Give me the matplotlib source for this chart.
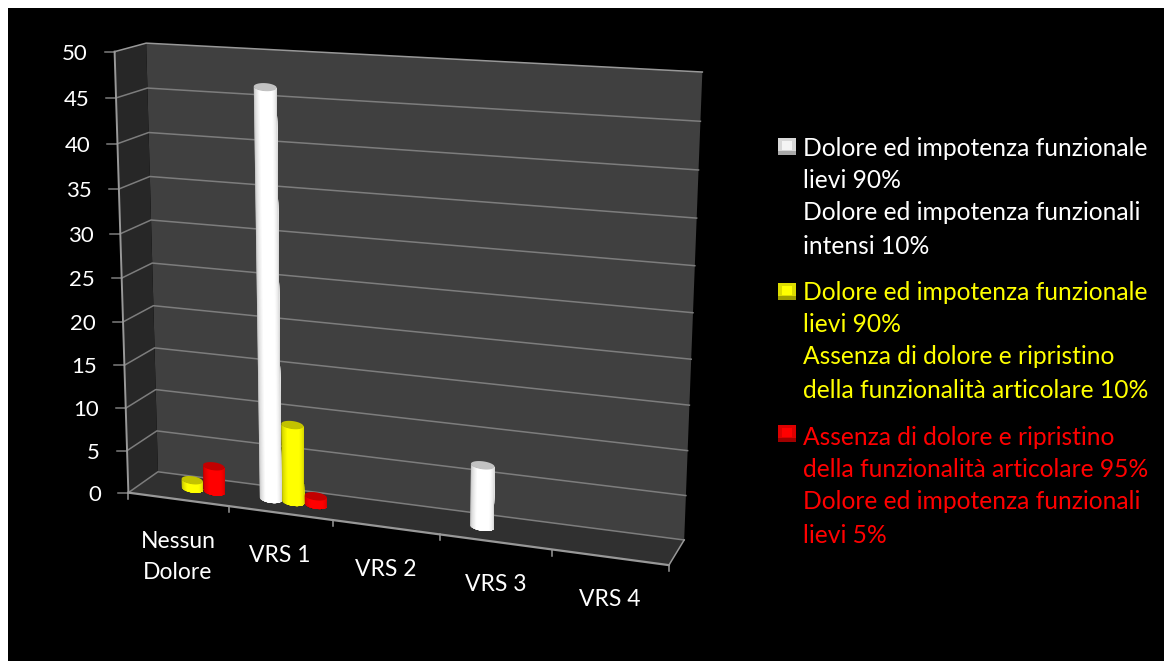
import numpy as np
import matplotlib
matplotlib.use('Agg')
import matplotlib.pyplot as plt
from matplotlib.patches import Polygon, Rectangle

plt.rcParams['font.family'] = ['Lato', 'DejaVu Sans']

categories = ['Nessun\nDolore', 'VRS 1', 'VRS 2', 'VRS 3', 'VRS 4']
white_values = [0, 46.5, 0, 7, 0]
yellow_values = [1, 9, 0, 0, 0]
red_values = [3, 1, 0, 0, 0]
value_ticks = [0, 5, 10, 15, 20, 25, 30, 35, 40, 45, 50]

white_legend = ['Dolore ed impotenza funzionale', 'lievi 90%',
                'Dolore ed impotenza funzionali', 'intensi 10%']
yellow_legend = ['Dolore ed impotenza funzionale', 'lievi 90%',
                 'Assenza di dolore e ripristino',
                 'della funzionalità articolare 10%']
red_legend = ['Assenza di dolore e ripristino',
              'della funzionalità articolare 95%',
              'Dolore ed impotenza funzionali', 'lievi 5%']

# (category axis, depth, value) -> pixel, used to fit the perspective
calib = [
    (0, 0, 0, 130, 492), (0, 0, 25, 123, 276), (0, 0, 50, 115, 51),
    (0, 1, 0, 158, 471), (0, 1, 25, 152, 263), (0, 1, 50, 145, 44),
    (5, 1, 0, 685, 538), (5, 1, 10, 688, 452), (5, 1, 45, 701, 122),
    (5, 1, 50, 702, 72),
    (1, 0, 0, 227, 508), (2, 0, 0, 332, 523), (4, 0, 0, 550, 550),
    (5, 0, 0, 670, 563),
]


def fit_camera(points):
    rows, rhs = [], []
    for x, d, v, px, py in points:
        rows.append([x, d, v, 1, 0, 0, 0, 0, -px * x, -px * d, -px * v])
        rhs.append(px)
        rows.append([0, 0, 0, 0, x, d, v, 1, -py * x, -py * d, -py * v])
        rhs.append(py)
    sol = np.linalg.lstsq(np.array(rows, float), np.array(rhs, float), rcond=None)[0]
    return np.append(sol, 1).reshape(3, 4)


camera = fit_camera(calib)


def project(x, d, v):
    p = camera @ np.array([x, d, v, 1.0])
    return p[:2] / p[2]


def shade_strip(rgb, n):
    t = (np.arange(n) + 0.5) / n
    f = np.interp(t, [0, 0.12, 0.35, 0.7, 0.9, 1], [0.66, 0.82, 1, 1, 0.88, 0.72])
    return np.array(rgb)[None, :] * f[:, None] / 255


def ellipse(x, d, v, half, b, t):
    left, right = project(x - half, d, v), project(x + half, d, v)
    mid = (left + right) / 2
    u = (right - left) / 2
    return mid[0] + u[0] * np.cos(t), mid[1] + u[1] * np.cos(t) + b * np.sin(t)


def cylinder(ax, x, value, rgb, half=0.107, depth=0.5, b=4):
    n = 24
    t = np.linspace(np.pi, 0, n + 1)
    xb, yb = ellipse(x, depth, 0, half, b, t)
    xt, yt = ellipse(x, depth, value, half, b, t)
    colors = shade_strip(rgb, n)
    # painted left to right, each strip covering the rest of the body, so no seams
    for i in range(n):
        px = np.r_[xt[i:], xb[i:][::-1]]
        py = np.r_[yt[i:], yb[i:][::-1]]
        ax.add_patch(Polygon(np.c_[px, py], fc=colors[i], ec='none', zorder=5))
    tc = np.linspace(0, 2 * np.pi, 60)
    xc, yc = ellipse(x, depth, value, half, b, tc)
    cap = np.array(rgb) * 0.76 / 255
    ax.add_patch(Polygon(np.c_[xc, yc], fc=cap, ec='none', zorder=6))


fig = plt.figure(figsize=(11.64, 6.61), dpi=100, facecolor='white')
ax = fig.add_axes([8 / 1164, 0, 1156 / 1164, 653 / 661], facecolor='black')
ax.set_xlim(8, 1164)
ax.set_ylim(661, 8)
ax.axis('off')
ax.add_patch(Rectangle((8, 8), 1156, 653, fc='black', ec='none', zorder=0))

# walls and floor
nx = len(categories)
vmax = value_ticks[-1]
back = [project(0, 1, 0), project(nx, 1, 0), project(nx, 1, vmax), project(0, 1, vmax)]
side = [project(0, 0, 0), project(0, 1, 0), project(0, 1, vmax), project(0, 0, vmax)]
floor = [project(0, 0, 0), project(nx, 0, 0), project(nx, 1, 0), project(0, 1, 0)]
ax.add_patch(Polygon(back, fc='#404040', ec='none', zorder=1))
ax.add_patch(Polygon(side, fc='#272727', ec='none', zorder=1))
ax.add_patch(Polygon(floor, fc='#303030', ec='none', zorder=1))

GRID = '#7d7d7d'
AXIS = '#989898'
for v in value_ticks:
    a, b, c = project(0, 0, v), project(0, 1, v), project(nx, 1, v)
    col = AXIS if v == vmax else GRID
    ax.plot([a[0], b[0], c[0]], [a[1], b[1], c[1]], color=col, lw=1.1, zorder=2)
    ax.plot([a[0] - 10, a[0]], [a[1], a[1]], color=GRID, lw=1.1, zorder=2)
    ax.text(a[0] - 27, a[1] + 2, str(v), color='white', fontsize=16, ha='right', va='center')

p0, p1 = project(0, 0, 0), project(0, 0, vmax)
ax.plot([p0[0], p1[0]], [p0[1], p1[1]], color=AXIS, lw=1.4, zorder=3)
p0, p1 = project(0, 0, 0), project(nx, 0, 0)
ax.plot([p0[0], p1[0]], [p0[1], p1[1]], color=AXIS, lw=1.6, zorder=3)
p0, p1 = project(nx, 0, 0), project(nx, 1, 0)
ax.plot([p0[0], p1[0]], [p0[1], p1[1]], color=AXIS, lw=1.1, zorder=3)
for i in range(nx + 1):
    p = project(i, 0, 0)
    ax.plot([p[0], p[0]], [p[1], p[1] + 6], color=AXIS, lw=1.1, zorder=3)

for i, name in enumerate(categories):
    p = project(i + 0.5, 0, 0)
    ax.text(p[0], p[1] + 32, name, color='white', fontsize=16.5, ha='center', va='top', linespacing=1.55)

# bars
series = [(white_values, (255, 255, 255), -0.22),
          (yellow_values, (255, 255, 0), 0.0),
          (red_values, (255, 0, 0), 0.22)]
for values, rgb, off in series:
    for i, val in enumerate(values):
        if val > 0:
            cylinder(ax, i + 0.5 + off, val, rgb)

# legend
legend_rows = [
    (white_legend, 'white', [156, 188, 220, 254], 138, '#d8d8d8', '#a8a8a8', '#f4f4f4'),
    (yellow_legend, '#ffff00', [300, 332, 364, 398], 283, '#dcdc00', '#a0a000', '#ffff00'),
    (red_legend, '#ff0000', [445, 477, 509, 543], 425, '#dc0000', '#a00000', '#ff0000'),
]
for lines, col, baselines, y0, mid, dark, light in legend_rows:
    ax.add_patch(Rectangle((778, y0), 18, 17, fc=mid, ec='none', zorder=3))
    ax.add_patch(Rectangle((778, y0 + 13), 18, 4, fc=dark, ec='none', zorder=4))
    ax.add_patch(Rectangle((782, y0 + 3), 10, 9, fc=light, ec='none', zorder=4))
    for line, base in zip(lines, baselines):
        ax.text(803, base, line, color=col, fontsize=17.7, ha='left', va='baseline')

fig.savefig('out.png', dpi=100, facecolor='white')
